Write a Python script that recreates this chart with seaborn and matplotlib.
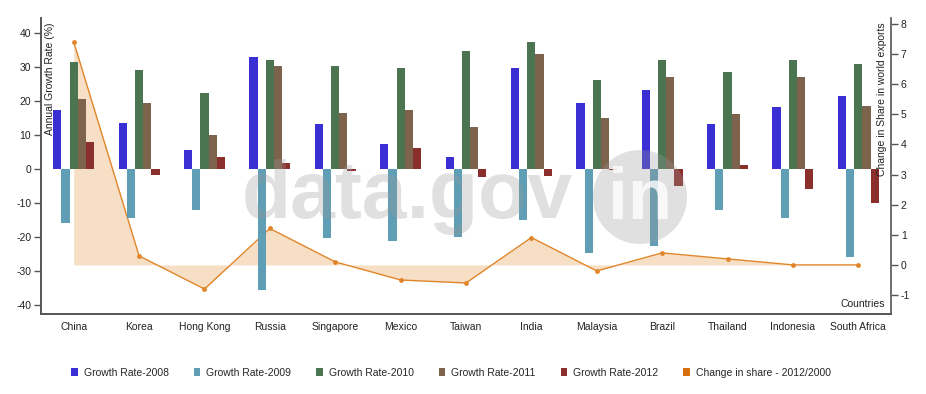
import numpy as np
import pandas as pd
import matplotlib
matplotlib.use("Agg")
import matplotlib.pyplot as plt
from matplotlib.patches import Patch, Ellipse
import seaborn as sns

# 数据
countries = ["China", "Korea", "Hong Kong", "Russia", "Singapore", "Mexico", "Taiwan",
             "India", "Malaysia", "Brazil", "Thailand", "Indonesia", "South Africa"]
growth_2008 = [17.4, 13.6, 5.5, 33.0, 13.1, 7.5, 3.5, 29.8, 19.3, 23.2, 13.1, 18.3, 21.5]
growth_2009 = [-15.8, -14.3, -12.1, -35.4, -20.2, -21.1, -20.0, -15.0, -24.8, -22.6, -11.9, -14.3, -25.8]
growth_2010 = [31.4, 29.1, 22.5, 32.1, 30.3, 29.8, 34.7, 37.2, 26.2, 32.1, 28.6, 32.1, 30.9]
growth_2011 = [20.6, 19.3, 10.0, 30.3, 16.6, 17.4, 12.5, 33.8, 14.9, 27.0, 16.1, 27.0, 18.5]
growth_2012 = [8.0, -1.6, 3.6, 1.7, -0.5, 6.3, -2.3, -2.0, -0.3, -4.9, 1.1, -6.0, -10.1]
share_change = [7.41, 0.30, -0.80, 1.21, 0.10, -0.50, -0.60, 0.91, -0.20, 0.40, 0.20, 0.0, 0.0]

series_names = ["Growth Rate-2008", "Growth Rate-2009", "Growth Rate-2010",
                "Growth Rate-2011", "Growth Rate-2012"]
bar_colors = ["#3a2fd2", "#5f9eb4", "#4b7451", "#7d624c", "#8a2f2c"]
line_color = "#e0862a"
fill_color = "#f7dfc6"
legend_orange = "#d9700f"

df = pd.DataFrame({
    "Country": countries * 5,
    "Series": np.repeat(series_names, len(countries)),
    "Value": growth_2008 + growth_2009 + growth_2010 + growth_2011 + growth_2012,
})

sns.set_style("white")
plt.rcParams["font.family"] = ["Liberation Sans", "DejaVu Sans"]
plt.rcParams["axes.unicode_minus"] = False
axis_col = "#555555"

fig, ax = plt.subplots(figsize=(9.26, 3.94), dpi=100)
fig.subplots_adjust(left=41/926, right=891/926, top=1-18/394, bottom=1-314/394)

sns.barplot(data=df, x="Country", y="Value", hue="Series", order=countries,
            hue_order=series_names, palette=bar_colors, width=0.625,
            saturation=1, linewidth=0, legend=False, ax=ax)

ax2 = ax.twinx()
xpos = np.arange(len(countries))
ax2.fill_between(xpos, share_change, 0, color=fill_color, linewidth=0)
sns.lineplot(x=xpos, y=share_change, color=line_color, linewidth=1,
             marker="o", markersize=3.5, markeredgewidth=0, ax=ax2)

# 柱子在面积图上方
ax.set_zorder(ax2.get_zorder() + 1)
ax.patch.set_visible(False)

ax.set_xlim(-0.5, len(countries) - 0.5)
ax.set_ylim(-42.6, 44.4)
ax2.set_ylim(-1.63, 8.2)
ax.set_yticks(range(-40, 41, 10))
ax2.set_yticks(range(-1, 9))

ax.set_xlabel("")
ax.set_ylabel("")
ax2.set_ylabel("")

ax.set_xticks(xpos)
ax.set_xticks(np.arange(-0.5, len(countries), 1), minor=True)
ax.tick_params(axis="x", which="major", length=0, pad=6, labelsize=7.5, colors="#222222")
ax.tick_params(axis="x", which="minor", length=5, width=1, color=axis_col)
ax.tick_params(axis="y", length=5, width=1, color=axis_col, labelsize=7.5,
               labelcolor="#222222", pad=2, left=True)
ax2.tick_params(axis="y", length=5, width=1, color=axis_col, labelsize=7.5,
                labelcolor="#222222", pad=2, right=True)

for a in (ax, ax2):
    a.spines["top"].set_visible(False)
    for s in ("left", "right", "bottom"):
        a.spines[s].set_color(axis_col)
        a.spines[s].set_linewidth(1.2)
ax.spines["right"].set_visible(False)

ax.text(0.0106, 0.986, "Annual Growth Rate (%)", transform=ax.transAxes,
        rotation=90, ha="center", va="top", fontsize=7.5, color="#222222")
ax.text(0.989, 0.986, "Change in Share in world exports", transform=ax.transAxes,
        rotation=90, ha="center", va="top", fontsize=7.5, color="#222222")
ax.text(0.993, 0.035, "Countries", transform=ax.transAxes,
        ha="right", va="center", fontsize=7.5, color="#222222")

# 水印
fig.text(242/926, 1-218/394, "data.gov", fontsize=58, fontweight="bold",
         color="#9a9a9a", alpha=0.3, ha="left", va="baseline", zorder=10)
fig.add_artist(Ellipse((640/926, 1-197/394), 94/926, 94/394,
                       transform=fig.transFigure, color="#9a9a9a", alpha=0.3,
                       linewidth=0, zorder=10))
fig.text(640/926, 1-200/394, "in", fontsize=52, fontweight="bold",
         color="white", alpha=0.8, ha="center", va="center", zorder=11)

handles = [Patch(facecolor=c, edgecolor="none") for c in bar_colors]
handles.append(Patch(facecolor=legend_orange, edgecolor="none"))
labels = series_names + ["Change in share - 2012/2000"]
fig.legend(handles, labels, loc="center", bbox_to_anchor=(451/926, 1-373/394),
           ncol=6, frameon=False, fontsize=7.5, handlelength=0.6, handleheight=0.8,
           handletextpad=0.6, columnspacing=2.4)

fig.savefig("out.png", dpi=100)
